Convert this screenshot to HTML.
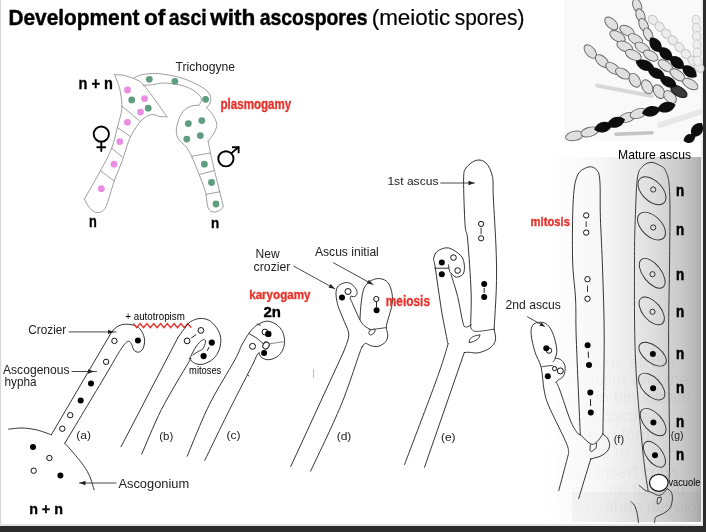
<!DOCTYPE html>
<html><head><meta charset="utf-8">
<style>
html,body{margin:0;padding:0;width:706px;height:532px;overflow:hidden;background:#2b2b2b;}
svg{position:absolute;left:0;top:0;display:block;will-change:transform;}
text{font-family:"Liberation Sans",sans-serif;}
</style></head>
<body>
<svg width="706" height="532" viewBox="0 0 706 532">
<defs>
<linearGradient id="gr" x1="545" y1="0" x2="701" y2="0" gradientUnits="userSpaceOnUse">
<stop offset="0" stop-color="#ffffff"/>
<stop offset="0.353" stop-color="#f7f7f7"/>
<stop offset="0.545" stop-color="#ebebeb"/>
<stop offset="0.705" stop-color="#dcdcdc"/>
<stop offset="0.865" stop-color="#cacaca"/>
<stop offset="0.96" stop-color="#bababa"/>
<stop offset="1" stop-color="#acadac"/>
</linearGradient>
<linearGradient id="stg" x1="530" y1="0" x2="640" y2="0" gradientUnits="userSpaceOnUse"><stop offset="0" stop-color="#000"/><stop offset="1" stop-color="#fff"/></linearGradient><mask id="stm" maskUnits="userSpaceOnUse" x="0" y="0" width="706" height="532"><rect x="530" y="160" width="171" height="362" fill="url(#stg)"/></mask>
<filter id="bl2" x="-5%" y="-5%" width="110%" height="110%"><feGaussianBlur stdDeviation="0.7"/></filter>
<filter id="bl" x="-5%" y="-5%" width="110%" height="110%"><feGaussianBlur stdDeviation="0.45"/></filter>
</defs>
<rect x="0" y="0" width="703" height="526" fill="#ffffff"/>
<rect x="0" y="0" width="1.2" height="526" fill="#d8d8d8"/>
<rect x="0" y="524" width="703" height="2" fill="#e4e4e4"/>
<rect x="701" y="0" width="2" height="526" fill="#ececec"/>
<rect x="545" y="157" width="156" height="365" fill="url(#gr)"/>
<g mask="url(#stm)" opacity="0.032" filter="url(#bl2)" font-family="Liberation Serif" font-size="17" fill="#000">
<text x="500" y="368">the ascogonium; all the</text>
<text x="480" y="385">nuclei of the crozier and the</text>
<text x="490" y="403">nuclei remain in binucleate</text>
<text x="470" y="421">form a primordial ascus</text>
<text x="485" y="440">two nuclei fuse to form</text>
<text x="470" y="458">diploid nuclei have re</text>
<text x="480" y="477">divide. Meiosis insert colla</text>
<text x="470" y="495">eight ascospores are formed</text>
<text x="490" y="512">ascogenous hyphae develop</text>
</g>
<rect x="572" y="492" width="129" height="30" fill="#000" opacity="0.03"/>
<text x="8.399999999999999" y="24.8" font-size="22.5" font-weight="bold" stroke="#000" stroke-width="0.45" fill="#000" textLength="131.0" lengthAdjust="spacingAndGlyphs">Development</text>
<text x="144.0" y="24.8" font-size="22.5" font-weight="bold" stroke="#000" stroke-width="0.45" fill="#000" textLength="21.4" lengthAdjust="spacingAndGlyphs">of</text>
<text x="168.79999999999998" y="24.8" font-size="22.5" font-weight="bold" stroke="#000" stroke-width="0.45" fill="#000" textLength="37.8" lengthAdjust="spacingAndGlyphs">asci</text>
<text x="210.2" y="24.8" font-size="22.5" font-weight="bold" stroke="#000" stroke-width="0.45" fill="#000" textLength="45.2" lengthAdjust="spacingAndGlyphs">with</text>
<text x="259.7" y="24.8" font-size="22.5" font-weight="bold" stroke="#000" stroke-width="0.45" fill="#000" textLength="107.8" lengthAdjust="spacingAndGlyphs">ascospores</text>
<text x="371.7" y="24.8" font-size="22.5" stroke="#000" stroke-width="0.2" fill="#000" textLength="78.6" lengthAdjust="spacingAndGlyphs">(meiotic</text>
<text x="454.7" y="24.8" font-size="22.5" stroke="#000" stroke-width="0.2" fill="#000" textLength="69.7" lengthAdjust="spacingAndGlyphs">spores)</text>

<g id="photo">
<rect x="564" y="0" width="137.5" height="141" fill="#f9f9f9"/>
<g filter="url(#bl)">
<ellipse cx="653.0" cy="20.0" rx="5.2" ry="4.2" transform="rotate(45 653.0 20.0)" fill="#ececec" stroke="#c4c4c4" stroke-width="1"/>
<ellipse cx="659.6" cy="26.8" rx="5.2" ry="4.2" transform="rotate(45 659.6 26.8)" fill="#ececec" stroke="#c4c4c4" stroke-width="1"/>
<ellipse cx="666.2" cy="33.6" rx="5.2" ry="4.2" transform="rotate(45 666.2 33.6)" fill="#ececec" stroke="#c4c4c4" stroke-width="1"/>
<ellipse cx="672.8" cy="40.4" rx="5.2" ry="4.2" transform="rotate(45 672.8 40.4)" fill="#ececec" stroke="#c4c4c4" stroke-width="1"/>
<ellipse cx="679.4" cy="47.2" rx="5.2" ry="4.2" transform="rotate(45 679.4 47.2)" fill="#ececec" stroke="#c4c4c4" stroke-width="1"/>
<ellipse cx="686.0" cy="54.0" rx="5.2" ry="4.2" transform="rotate(45 686.0 54.0)" fill="#ececec" stroke="#c4c4c4" stroke-width="1"/>
<ellipse cx="692.6" cy="60.8" rx="5.2" ry="4.2" transform="rotate(45 692.6 60.8)" fill="#ececec" stroke="#c4c4c4" stroke-width="1"/>
<ellipse cx="699.2" cy="67.6" rx="5.2" ry="4.2" transform="rotate(45 699.2 67.6)" fill="#ececec" stroke="#c4c4c4" stroke-width="1"/>
<ellipse cx="696.0" cy="20.0" rx="4.8" ry="4" transform="rotate(80 696.0 20.0)" fill="#eeeeee" stroke="#cccccc" stroke-width="1"/>
<ellipse cx="696.3" cy="28.2" rx="4.8" ry="4" transform="rotate(80 696.3 28.2)" fill="#eeeeee" stroke="#cccccc" stroke-width="1"/>
<ellipse cx="696.6" cy="36.4" rx="4.8" ry="4" transform="rotate(80 696.6 36.4)" fill="#eeeeee" stroke="#cccccc" stroke-width="1"/>
<ellipse cx="696.9" cy="44.6" rx="4.8" ry="4" transform="rotate(80 696.9 44.6)" fill="#eeeeee" stroke="#cccccc" stroke-width="1"/>
<ellipse cx="697.2" cy="52.8" rx="4.8" ry="4" transform="rotate(80 697.2 52.8)" fill="#eeeeee" stroke="#cccccc" stroke-width="1"/>
<ellipse cx="697.5" cy="61.0" rx="4.8" ry="4" transform="rotate(80 697.5 61.0)" fill="#eeeeee" stroke="#cccccc" stroke-width="1"/>
<path d="M597 85.6 L652 96" stroke="#d8d8d8" stroke-width="4" stroke-linecap="round"/>
<path d="M616 134.3 L652 132.7" stroke="#c4c4c4" stroke-width="3.5" stroke-linecap="round"/>
<path d="M660 125 L700 112" stroke="#e8e8e8" stroke-width="6" stroke-linecap="round"/>
<ellipse cx="590.3" cy="51.5" rx="8" ry="4.6" transform="rotate(50 590.3 51.5)" fill="#e0e0e0" stroke="#666666" stroke-width="0.95"/>
<ellipse cx="602.0" cy="61.0" rx="8" ry="4.6" transform="rotate(42 602.0 61.0)" fill="#e0e0e0" stroke="#666666" stroke-width="0.95"/>
<ellipse cx="612.8" cy="68.3" rx="8" ry="4.6" transform="rotate(35 612.8 68.3)" fill="#e0e0e0" stroke="#666666" stroke-width="0.95"/>
<ellipse cx="622.8" cy="73.5" rx="8" ry="4.6" transform="rotate(30 622.8 73.5)" fill="#e0e0e0" stroke="#666666" stroke-width="0.95"/>
<ellipse cx="634.8" cy="80.3" rx="7.5" ry="5" transform="rotate(58 634.8 80.3)" fill="#e0e0e0" stroke="#666666" stroke-width="0.95"/>
<ellipse cx="647.2" cy="86.8" rx="7.5" ry="5" transform="rotate(62 647.2 86.8)" fill="#e0e0e0" stroke="#666666" stroke-width="0.95"/>
<ellipse cx="659" cy="91.6" rx="7.5" ry="5" transform="rotate(58 659 91.6)" fill="#e0e0e0" stroke="#666666" stroke-width="0.95"/>
<ellipse cx="670" cy="97" rx="7.5" ry="5" transform="rotate(45 670 97)" fill="#e0e0e0" stroke="#666666" stroke-width="0.95"/>
<ellipse cx="611.3" cy="23.5" rx="8" ry="4.6" transform="rotate(45 611.3 23.5)" fill="#e0e0e0" stroke="#666666" stroke-width="0.95"/>
<ellipse cx="617.5" cy="36.4" rx="8.5" ry="4.6" transform="rotate(30 617.5 36.4)" fill="#e0e0e0" stroke="#666666" stroke-width="0.95"/>
<ellipse cx="624.8" cy="46.6" rx="8.5" ry="4.6" transform="rotate(25 624.8 46.6)" fill="#e0e0e0" stroke="#666666" stroke-width="0.95"/>
<ellipse cx="633.3" cy="55" rx="8.5" ry="4.6" transform="rotate(25 633.3 55)" fill="#e0e0e0" stroke="#666666" stroke-width="0.95"/>
<ellipse cx="627.1" cy="30.8" rx="8" ry="4.5" transform="rotate(30 627.1 30.8)" fill="#e0e0e0" stroke="#666666" stroke-width="0.95"/>
<ellipse cx="635.5" cy="39.2" rx="8" ry="4.5" transform="rotate(30 635.5 39.2)" fill="#e0e0e0" stroke="#666666" stroke-width="0.95"/>
<ellipse cx="642.3" cy="47.7" rx="8" ry="4.5" transform="rotate(30 642.3 47.7)" fill="#e0e0e0" stroke="#666666" stroke-width="0.95"/>
<ellipse cx="650.7" cy="55.6" rx="8" ry="4.5" transform="rotate(30 650.7 55.6)" fill="#e0e0e0" stroke="#666666" stroke-width="0.95"/>
<ellipse cx="637.2" cy="5.5" rx="7" ry="4.2" transform="rotate(70 637.2 5.5)" fill="#e0e0e0" stroke="#666666" stroke-width="0.95"/>
<ellipse cx="640.5" cy="15.5" rx="7" ry="4.2" transform="rotate(68 640.5 15.5)" fill="#e0e0e0" stroke="#666666" stroke-width="0.95"/>
<ellipse cx="643.6" cy="25" rx="7" ry="4.2" transform="rotate(65 643.6 25)" fill="#e0e0e0" stroke="#666666" stroke-width="0.95"/>
<ellipse cx="648.2" cy="34.5" rx="7" ry="4.2" transform="rotate(65 648.2 34.5)" fill="#e0e0e0" stroke="#666666" stroke-width="0.95"/>
<ellipse cx="665.5" cy="65.8" rx="8.5" ry="4.5" transform="rotate(35 665.5 65.8)" fill="#e0e0e0" stroke="#666666" stroke-width="0.95"/>
<ellipse cx="677.4" cy="74.9" rx="8.5" ry="4.5" transform="rotate(35 677.4 74.9)" fill="#e0e0e0" stroke="#666666" stroke-width="0.95"/>
<ellipse cx="690.3" cy="84" rx="8.5" ry="4.5" transform="rotate(30 690.3 84)" fill="#e0e0e0" stroke="#666666" stroke-width="0.95"/>
<ellipse cx="574.4" cy="135.9" rx="9" ry="4.6" transform="rotate(-12 574.4 135.9)" fill="#e0e0e0" stroke="#666666" stroke-width="0.95"/>
<ellipse cx="589.6" cy="131.9" rx="9" ry="4.6" transform="rotate(-15 589.6 131.9)" fill="#e0e0e0" stroke="#666666" stroke-width="0.95"/>
<ellipse cx="627.1" cy="117.5" rx="8.5" ry="4.6" transform="rotate(-18 627.1 117.5)" fill="#e0e0e0" stroke="#666666" stroke-width="0.95"/>
<ellipse cx="638.3" cy="113.5" rx="8.5" ry="4.6" transform="rotate(-18 638.3 113.5)" fill="#e0e0e0" stroke="#666666" stroke-width="0.95"/>
<ellipse cx="679" cy="91.6" rx="9" ry="4.6" transform="rotate(30 679 91.6)" fill="#3a3a3a" stroke="#111" stroke-width="1"/>
<path d="M-8.93 0C-4.46 -7.20 4.46 -7.20 8.93 0C4.46 7.20 -4.46 7.20 -8.93 0Z" transform="translate(655.6 44.9) rotate(55)" fill="#0a0a0a"/>
<path d="M-8.93 0C-4.46 -7.20 4.46 -7.20 8.93 0C4.46 7.20 -4.46 7.20 -8.93 0Z" transform="translate(665.7 53.9) rotate(45)" fill="#0a0a0a"/>
<path d="M-8.93 0C-4.46 -7.20 4.46 -7.20 8.93 0C4.46 7.20 -4.46 7.20 -8.93 0Z" transform="translate(677 62.5) rotate(40)" fill="#0a0a0a"/>
<path d="M-8.93 0C-4.46 -7.20 4.46 -7.20 8.93 0C4.46 7.20 -4.46 7.20 -8.93 0Z" transform="translate(689.5 71.5) rotate(38)" fill="#0a0a0a"/>
<path d="M-10.19 0C-5.09 -6.90 5.09 -6.90 10.19 0C5.09 6.90 -5.09 6.90 -10.19 0Z" transform="translate(645.1 65.2) rotate(22)" fill="#0a0a0a"/>
<path d="M-9.66 0C-4.83 -6.75 4.83 -6.75 9.66 0C4.83 6.75 -4.83 6.75 -9.66 0Z" transform="translate(656.4 73.3) rotate(25)" fill="#0a0a0a"/>
<path d="M-9.66 0C-4.83 -6.75 4.83 -6.75 9.66 0C4.83 6.75 -4.83 6.75 -9.66 0Z" transform="translate(668.2 81.9) rotate(28)" fill="#0a0a0a"/>
<path d="M-9.45 0C-4.73 -6.90 4.73 -6.90 9.45 0C4.73 6.90 -4.73 6.90 -9.45 0Z" transform="translate(603.2 127.1) rotate(-15)" fill="#0a0a0a"/>
<path d="M-9.45 0C-4.73 -6.90 4.73 -6.90 9.45 0C4.73 6.90 -4.73 6.90 -9.45 0Z" transform="translate(616 122.3) rotate(-18)" fill="#0a0a0a"/>
<path d="M-9.45 0C-4.73 -6.90 4.73 -6.90 9.45 0C4.73 6.90 -4.73 6.90 -9.45 0Z" transform="translate(651.2 111.2) rotate(-12)" fill="#0a0a0a"/>
<path d="M-9.45 0C-4.73 -6.90 4.73 -6.90 9.45 0C4.73 6.90 -4.73 6.90 -9.45 0Z" transform="translate(666.4 107.2) rotate(-15)" fill="#0a0a0a"/>
<path d="M-8.40 0C-4.20 -7.50 4.20 -7.50 8.40 0C4.20 7.50 -4.20 7.50 -8.40 0Z" transform="translate(697 130) rotate(-55)" fill="#0a0a0a"/>
<path d="M-6.30 0C-3.15 -6.00 3.15 -6.00 6.30 0C3.15 6.00 -3.15 6.00 -6.30 0Z" transform="translate(689.5 138.5) rotate(-20)" fill="#0a0a0a"/>
</g>
</g>
<g id="diag">
<path d="M114.6 74.6C116.4 74.8 121.3 74.7 125.3 75.7C129.3 76.7 135.7 79.2 138.8 80.8C141.9 82.4 141.5 82.5 143.9 85.3C146.3 88.1 149.7 92.4 153.5 97.7C157.3 103.0 164.8 113.7 167.0 116.9" fill="none" stroke="#858585" stroke-width="0.8" stroke-linejoin="round" stroke-linecap="round"/>
<path d="M167.0 116.9C165.7 116.8 161.3 116.7 159.1 116.3C156.8 115.9 155.6 114.6 153.5 114.6C151.4 114.6 149.1 114.8 146.7 116.3C144.2 117.8 141.7 119.8 138.8 123.6C136.0 127.3 132.4 132.5 129.6 138.8C126.8 145.1 124.5 154.5 122.0 161.4C119.5 168.3 116.5 174.5 114.5 180.2C112.5 185.8 111.4 190.6 109.8 195.3C108.2 200.0 107.1 205.5 105.1 208.4C103.1 211.3 100.1 212.6 97.6 212.6C95.1 212.6 92.2 210.7 90.0 208.4C87.8 206.1 85.3 200.6 84.4 199.0" fill="none" stroke="#858585" stroke-width="0.8" stroke-linejoin="round" stroke-linecap="round"/>
<path d="M84.4 199.0C87.1 194.3 95.9 179.3 100.4 170.8C105.0 162.3 108.9 155.4 111.7 148.2C114.5 141.0 115.8 133.1 117.3 127.5C118.8 121.9 120.0 118.4 120.8 114.6C121.6 110.8 122.1 108.8 121.9 104.5C121.7 100.2 120.9 93.7 119.7 88.7C118.5 83.7 115.4 76.9 114.6 74.6" fill="none" stroke="#858585" stroke-width="0.8" stroke-linejoin="round" stroke-linecap="round"/>
<line x1="121.9" y1="106.1" x2="139.4" y2="120.8" stroke="#858585" stroke-width="0.8" stroke-linecap="round"/>
<line x1="117.3" y1="127.5" x2="130.5" y2="136.6" stroke="#858585" stroke-width="0.8" stroke-linecap="round"/>
<line x1="111.7" y1="148.2" x2="122" y2="156.7" stroke="#858585" stroke-width="0.8" stroke-linecap="round"/>
<line x1="100.4" y1="170.8" x2="114.5" y2="181.2" stroke="#858585" stroke-width="0.8" stroke-linecap="round"/>
<path d="M133.7 78.0C135.1 77.4 138.5 75.3 142.2 74.6C145.9 73.8 151.9 73.5 155.7 73.5C159.5 73.5 160.9 73.8 165.0 74.5C169.1 75.2 175.0 76.0 180.0 77.5C185.0 79.0 190.5 81.2 195.0 83.5C199.5 85.8 204.5 88.5 207.1 91.0C209.7 93.5 210.4 96.2 210.8 98.5C211.2 100.8 210.1 103.0 209.3 104.5C208.6 106.0 206.8 107.1 206.3 107.6" fill="none" stroke="#858585" stroke-width="0.8" stroke-linejoin="round" stroke-linecap="round"/>
<path d="M143.3 85.3C144.8 85.2 148.9 85.1 152.3 84.7C155.7 84.3 159.0 83.0 163.6 83.0C168.2 83.0 175.3 83.9 180.0 85.0C184.7 86.1 188.6 87.6 192.0 89.5C195.4 91.4 198.8 94.3 200.3 96.3C201.8 98.3 201.3 100.0 201.1 101.5C200.8 103.0 199.2 104.7 198.8 105.3" fill="none" stroke="#858585" stroke-width="0.8" stroke-linejoin="round" stroke-linecap="round"/>
<path d="M198.8 105.3C197.7 105.4 194.4 105.2 192.0 106.0C189.6 106.8 186.6 107.8 184.5 109.8C182.4 111.8 180.7 114.7 179.3 118.1C177.9 121.5 176.4 126.6 176.3 130.1C176.2 133.6 176.9 136.3 178.5 139.1C180.1 141.9 183.8 143.9 186.1 146.9C188.3 149.9 189.8 152.3 192.0 157.1C194.2 161.9 197.3 169.8 199.6 175.7C201.9 181.6 204.2 187.2 205.6 192.6C207.0 198.0 206.7 204.7 208.1 207.9C209.5 211.2 211.9 211.8 214.0 212.1C216.1 212.4 219.2 210.6 220.8 209.6C222.4 208.6 222.9 206.8 223.3 206.2" fill="none" stroke="#858585" stroke-width="0.8" stroke-linejoin="round" stroke-linecap="round"/>
<path d="M223.3 206.2C222.7 203.9 221.3 198.2 219.9 192.6C218.5 186.9 216.5 178.8 214.9 172.3C213.3 165.8 211.7 158.9 210.6 153.7C209.5 148.5 208.5 143.1 208.1 141.0" fill="none" stroke="#858585" stroke-width="0.8" stroke-linejoin="round" stroke-linecap="round"/>
<path d="M208.1 141.0C208.9 139.9 211.6 137.2 213.1 134.6C214.6 132.0 216.6 128.3 216.8 125.6C217.1 122.8 215.7 120.5 214.6 118.1C213.5 115.7 211.5 113.0 210.1 111.3C208.7 109.5 206.9 108.2 206.3 107.6" fill="none" stroke="#858585" stroke-width="0.8" stroke-linejoin="round" stroke-linecap="round"/>
<line x1="192" y1="156.2" x2="210.6" y2="152.9" stroke="#858585" stroke-width="0.8" stroke-linecap="round"/>
<line x1="199.6" y1="174.4" x2="214" y2="170.6" stroke="#858585" stroke-width="0.8" stroke-linecap="round"/>
<line x1="206.4" y1="194.3" x2="219.9" y2="191.8" stroke="#858585" stroke-width="0.8" stroke-linecap="round"/>
<circle cx="127.5" cy="90" r="3.4" fill="#ea8ee3"/>
<circle cx="144.5" cy="98.6" r="3.4" fill="#ea8ee3"/>
<circle cx="140.5" cy="112.1" r="3.4" fill="#ea8ee3"/>
<circle cx="127.4" cy="122.3" r="3.4" fill="#ea8ee3"/>
<circle cx="119.8" cy="141.6" r="3.4" fill="#ea8ee3"/>
<circle cx="114" cy="164.2" r="3.4" fill="#ea8ee3"/>
<circle cx="101.3" cy="188.7" r="3.4" fill="#ea8ee3"/>
<circle cx="131.7" cy="99.9" r="3.4" fill="#5e9d7f"/>
<circle cx="148.2" cy="108.2" r="3.4" fill="#5e9d7f"/>
<circle cx="149.3" cy="79.3" r="3.4" fill="#5e9d7f"/>
<circle cx="174.9" cy="81.3" r="3.4" fill="#5e9d7f"/>
<circle cx="205.6" cy="99.3" r="3.4" fill="#5e9d7f"/>
<circle cx="188.3" cy="123.6" r="3.4" fill="#5e9d7f"/>
<circle cx="201.8" cy="120.6" r="3.4" fill="#5e9d7f"/>
<circle cx="186.8" cy="139.1" r="3.4" fill="#5e9d7f"/>
<circle cx="200.3" cy="135.6" r="3.4" fill="#5e9d7f"/>
<circle cx="204.4" cy="164.2" r="3.4" fill="#5e9d7f"/>
<circle cx="211.5" cy="182.5" r="3.4" fill="#5e9d7f"/>
<circle cx="216" cy="204" r="3.4" fill="#5e9d7f"/>
<circle cx="101.3" cy="134.1" r="7.6" fill="none" stroke="#000" stroke-width="1.9"/>
<line x1="101.3" y1="141.7" x2="101.3" y2="151" stroke="#000" stroke-width="1.9" stroke-linecap="round"/>
<line x1="97.2" y1="147.3" x2="105.2" y2="147.3" stroke="#000" stroke-width="1.9" stroke-linecap="round"/>
<circle cx="225.9" cy="158.8" r="7.6" fill="none" stroke="#000" stroke-width="1.9"/>
<line x1="231.2" y1="153.4" x2="238.3" y2="147.2" stroke="#000" stroke-width="1.9" stroke-linecap="round"/>
<path d="M232 147.2H238.6V153.2" fill="none" stroke="#000" stroke-width="1.9"/>
<path d="M8.6 429.2C10.8 429.0 17.3 427.9 22.0 428.0C26.7 428.1 31.8 428.8 36.7 429.9C41.6 431.0 48.9 434.0 51.3 434.8" fill="none" stroke="#2a2a2a" stroke-width="0.95" stroke-linejoin="round" stroke-linecap="round"/>
<line x1="51.3" y1="434.8" x2="109.7" y2="335.3" stroke="#2a2a2a" stroke-width="0.95" stroke-linecap="round"/>
<path d="M109.7 335.3C110.5 334.2 112.6 330.3 114.7 328.5C116.8 326.7 119.4 325.2 122.1 324.6C124.8 324.0 128.4 324.1 131.1 324.6C133.8 325.1 136.4 325.9 138.4 327.4C140.4 328.9 141.9 331.4 142.9 333.6C143.9 335.9 144.6 338.4 144.6 340.9C144.6 343.4 143.9 346.9 142.9 348.8C141.9 350.7 139.9 352.0 138.4 352.2C136.9 352.4 135.0 351.3 133.9 350.0C132.8 348.7 132.4 345.7 131.7 344.3C130.9 342.9 130.2 341.9 129.4 341.5C128.6 341.1 127.6 341.4 126.6 342.1C125.6 342.9 124.7 343.9 123.2 346.0C121.7 348.1 120.5 349.7 117.6 354.5C114.7 359.3 114.5 360.2 105.7 375.0C96.9 389.8 71.6 431.9 64.8 443.3" fill="none" stroke="#2a2a2a" stroke-width="0.95" stroke-linejoin="round" stroke-linecap="round"/>
<path d="M64.8 443.3C65.2 443.7 64.5 442.7 67.2 445.8C69.9 448.9 77.0 456.8 80.7 461.7C84.4 466.6 87.0 470.4 89.2 475.1C91.4 479.8 93.3 487.4 94.1 489.8" fill="none" stroke="#2a2a2a" stroke-width="0.95" stroke-linejoin="round" stroke-linecap="round"/>
<circle cx="137.9" cy="340.4" r="3.0" fill="#000"/>
<circle cx="91" cy="383.4" r="3.0" fill="#000"/>
<circle cx="80.7" cy="400.6" r="3.0" fill="#000"/>
<circle cx="33" cy="447" r="3.0" fill="#000"/>
<circle cx="60.4" cy="475.6" r="3.0" fill="#000"/>
<circle cx="114.4" cy="340.9" r="2.6999999999999997" fill="#fff" stroke="#111" stroke-width="1.0"/>
<circle cx="106.1" cy="361.8" r="2.6999999999999997" fill="#fff" stroke="#111" stroke-width="1.0"/>
<circle cx="70.2" cy="415.2" r="2.6999999999999997" fill="#fff" stroke="#111" stroke-width="1.0"/>
<circle cx="62.3" cy="428.7" r="2.6999999999999997" fill="#fff" stroke="#111" stroke-width="1.0"/>
<circle cx="49.4" cy="458" r="2.6999999999999997" fill="#fff" stroke="#111" stroke-width="1.0"/>
<circle cx="33.7" cy="470.7" r="2.6999999999999997" fill="#fff" stroke="#111" stroke-width="1.0"/>
<line x1="69" y1="331.9" x2="115.9" y2="331.9" stroke="#333" stroke-width="0.9" stroke-linecap="round"/>
<path d="M114.0 331.9L108.0 334.1L108.0 329.7Z" fill="#222"/>
<line x1="72" y1="371.5" x2="96.6" y2="371.5" stroke="#333" stroke-width="0.9" stroke-linecap="round"/>
<path d="M94.0 371.5L88.0 373.7L88.0 369.3Z" fill="#222"/>
<line x1="79.5" y1="483" x2="116" y2="483" stroke="#333" stroke-width="0.9" stroke-linecap="round"/>
<path d="M79.5 483.0L85.5 480.8L85.5 485.2Z" fill="#222"/>
<polyline points="133.3,323.6 136.7,327.6 140.1,323.6 143.5,327.6 146.9,323.6 150.3,327.6 153.7,323.6 157.1,327.6 160.5,323.6 163.9,327.6 167.3,323.6 170.7,327.6 174.1,323.6 177.5,327.6 180.9,323.6 184.3,327.6 187.7,323.6 191.1,327.6" fill="none" stroke="#e8322b" stroke-width="1.45"/>
<line x1="121" y1="446.8" x2="177.9" y2="337.6" stroke="#2a2a2a" stroke-width="0.95" stroke-linecap="round"/>
<path d="M177.9 337.6C179.0 336.1 182.4 331.0 184.5 328.4C186.6 325.8 188.0 323.4 190.4 321.8C192.8 320.2 195.9 318.9 198.9 318.6C201.9 318.3 205.3 318.5 208.2 319.9C211.1 321.3 214.0 324.2 216.1 327.1C218.2 330.1 220.2 333.9 220.7 337.6C221.2 341.3 220.5 346.0 219.3 349.5C218.1 353.0 215.9 356.3 213.4 358.7C210.9 361.1 207.0 363.0 204.2 363.9C201.3 364.8 198.5 364.4 196.3 363.9C194.1 363.4 192.2 361.6 191.1 360.7C190.0 359.8 189.9 359.0 189.7 358.7" fill="none" stroke="#2a2a2a" stroke-width="0.95" stroke-linejoin="round" stroke-linecap="round"/>
<path d="M189.7 358.7C190.6 356.9 193.2 351.0 195.0 348.2C196.8 345.4 198.8 343.0 200.3 341.6C201.8 340.2 203.3 339.5 204.2 339.6C205.1 339.7 205.7 340.7 205.5 342.2C205.3 343.7 204.1 347.3 202.9 348.8C201.7 350.3 200.0 350.4 198.3 351.4C196.7 352.4 193.9 354.4 193.0 355.0" fill="none" stroke="#2a2a2a" stroke-width="0.95" stroke-linejoin="round" stroke-linecap="round"/>
<path d="M190.5 359.0C190.1 359.7 193.0 354.7 188.2 363.1C183.3 371.5 169.2 394.4 161.4 409.6C153.7 424.8 145.0 446.7 141.7 454.1" fill="none" stroke="#2a2a2a" stroke-width="0.95" stroke-linejoin="round" stroke-linecap="round"/>
<circle cx="200.9" cy="330.4" r="2.9" fill="#fff" stroke="#111" stroke-width="1.0"/>
<circle cx="187.1" cy="340.9" r="2.9" fill="#fff" stroke="#111" stroke-width="1.0"/>
<line x1="191.5" y1="337.8" x2="195.8" y2="334.8" stroke="#222" stroke-width="1.0" stroke-linecap="round"/>
<circle cx="211.8" cy="342.6" r="3.1" fill="#000"/>
<circle cx="203.6" cy="356.1" r="3.1" fill="#000"/>
<line x1="209" y1="347.3" x2="207.3" y2="350.5" stroke="#222" stroke-width="1.0" stroke-linecap="round"/>
<path d="M187.2 456.2C190.8 447.8 201.0 421.5 208.9 405.5C216.8 389.5 229.3 370.1 234.8 360.0C240.3 349.9 239.4 349.5 241.8 345.0C244.2 340.5 246.9 336.1 249.1 333.1C251.2 330.1 252.5 328.7 254.7 326.9C256.9 325.1 259.8 323.3 262.1 322.4C264.5 321.5 266.4 320.9 268.8 321.3C271.2 321.7 274.4 323.0 276.7 324.7C279.0 326.4 281.1 328.8 282.4 331.4C283.7 334.0 284.5 337.5 284.6 340.5C284.7 343.5 284.0 346.9 282.9 349.5C281.8 352.1 280.0 354.5 277.9 356.2C275.8 357.9 272.4 359.2 270.0 359.6C267.6 360.0 264.9 359.2 263.2 358.5C261.5 357.8 260.5 356.0 259.8 355.1C259.1 354.2 259.3 353.3 259.2 352.9" fill="none" stroke="#2a2a2a" stroke-width="0.95" stroke-linejoin="round" stroke-linecap="round"/>
<path d="M259.2 352.9C258.8 353.3 257.9 353.4 257.0 355.1C256.1 356.8 254.1 361.7 253.5 363.0" fill="none" stroke="#2a2a2a" stroke-width="0.95" stroke-linejoin="round" stroke-linecap="round"/>
<path d="M253.5 363.0C249.5 370.8 237.7 393.4 229.6 409.6C221.5 425.8 208.9 451.9 204.8 460.3" fill="none" stroke="#2a2a2a" stroke-width="0.95" stroke-linejoin="round" stroke-linecap="round"/>
<path d="M249.1 333.7C250.2 334.4 253.7 336.1 255.9 337.6C258.1 339.1 260.7 341.5 262.1 342.7C263.5 343.9 263.9 344.6 264.3 345.0" fill="none" stroke="#2a2a2a" stroke-width="0.95" stroke-linejoin="round" stroke-linecap="round"/>
<path d="M270.0 343.8C271.1 343.6 274.3 343.1 276.7 342.7C279.1 342.3 283.3 341.8 284.6 341.6" fill="none" stroke="#666" stroke-width="0.8" stroke-linejoin="round" stroke-linecap="round"/>
<line x1="257" y1="324.1" x2="260.4" y2="325.2" stroke="#222" stroke-width="0.9" stroke-linecap="round"/>
<line x1="247.5" y1="374.8" x2="249" y2="376" stroke="#222" stroke-width="0.9" stroke-linecap="round"/>
<circle cx="264.9" cy="332" r="2.9" fill="#fff" stroke="#111" stroke-width="1.0"/>
<circle cx="268.3" cy="333.9" r="3.2" fill="#000"/>
<circle cx="252.5" cy="346.3" r="3.0" fill="#fff" stroke="#111" stroke-width="1.0"/>
<ellipse cx="266" cy="345.5" rx="3" ry="3.6" transform="rotate(30 266 345.5)" fill="#fff" stroke="#111" stroke-width="1"/>
<circle cx="264.1" cy="352.9" r="3.0" fill="#000"/>
<line x1="313.6" y1="369.5" x2="313.6" y2="377.5" stroke="#aaa" stroke-width="0.9" stroke-linecap="round"/>
<path d="M290.8 466.4L343.5 352.0" fill="none" stroke="#2a2a2a" stroke-width="0.95" stroke-linejoin="round" stroke-linecap="round"/>
<path d="M343.5 352.0C344.4 349.2 348.7 340.2 348.8 335.1C348.9 330.0 346.1 326.4 344.3 321.6C342.6 316.9 339.7 311.1 338.3 306.6C336.9 302.1 336.1 297.8 336.0 294.5C335.9 291.2 336.4 288.9 337.5 287.0C338.6 285.1 340.9 284.0 342.8 283.3C344.7 282.6 346.9 282.3 348.8 282.8C350.7 283.3 352.6 284.9 354.0 286.3C355.4 287.8 356.6 290.0 357.0 291.5C357.4 293.0 356.9 294.4 356.3 295.3C355.7 296.2 354.2 296.7 353.3 296.8C352.4 296.9 351.5 295.8 351.0 296.0C350.5 296.2 350.1 297.1 350.3 298.3C350.6 299.6 351.0 300.1 352.5 303.5C354.0 306.9 357.4 315.0 359.3 318.6C361.2 322.2 362.1 323.6 363.8 325.3C365.6 327.1 368.8 328.5 369.8 329.1" fill="none" stroke="#2a2a2a" stroke-width="0.95" stroke-linejoin="round" stroke-linecap="round"/>
<path d="M310.6 471.2C315.7 460.2 332.7 425.4 340.9 405.5C349.1 385.6 356.4 361.7 360.0 352.0C363.6 342.3 361.4 348.5 362.3 347.1C363.2 345.7 363.9 343.6 365.3 343.4C366.7 343.1 368.5 345.1 370.6 345.6C372.7 346.1 375.6 347.0 378.1 346.4C380.6 345.8 384.0 343.8 385.6 341.9C387.2 340.0 387.7 337.5 387.8 335.1C387.9 332.7 386.3 330.1 386.3 327.6C386.3 325.1 387.2 322.6 387.8 320.1C388.4 317.6 389.4 315.6 390.1 312.6C390.9 309.6 392.1 305.5 392.3 302.0C392.6 298.5 392.4 294.8 391.6 291.5C390.9 288.2 389.6 284.6 387.8 282.5C386.1 280.4 383.5 279.3 381.1 278.8C378.7 278.3 376.0 278.6 373.6 279.5C371.2 280.4 368.6 282.0 366.8 284.0C365.0 286.0 364.0 287.7 363.0 291.5C362.0 295.3 361.3 302.0 360.8 306.6C360.3 311.2 360.1 317.2 360.0 319.3" fill="none" stroke="#2a2a2a" stroke-width="0.95" stroke-linejoin="round" stroke-linecap="round"/>
<path d="M369.0 329.8C370.0 329.7 372.2 329.5 375.1 329.1C378.0 328.7 384.4 327.9 386.3 327.6" fill="none" stroke="#2a2a2a" stroke-width="0.85" stroke-linejoin="round" stroke-linecap="round"/>
<path d="M368.8 332.5 Q369.5 329.5 375.1 329.1 Q375.5 333.5 370.6 335.1 Q368.6 334.5 368.8 332.5Z" fill="#fff" stroke="#222" stroke-width="0.85"/>
<circle cx="348" cy="291.5" r="3.0" fill="#fff" stroke="#111" stroke-width="1.0"/>
<circle cx="342" cy="297.5" r="3.0" fill="#000"/>
<circle cx="376.3" cy="299" r="2.5999999999999996" fill="#fff" stroke="#111" stroke-width="1.0"/>
<circle cx="376.6" cy="310.3" r="3.0" fill="#000"/>
<line x1="376.5" y1="302" x2="376.5" y2="307" stroke="#222" stroke-width="1.0" stroke-linecap="round"/>
<line x1="293.8" y1="266.2" x2="334.9" y2="288.8" stroke="#333" stroke-width="0.9" stroke-linecap="round"/>
<path d="M334.9 288.8L328.6 287.8L330.7 284.0Z" fill="#222"/>
<line x1="333.5" y1="262.8" x2="373.1" y2="284.6" stroke="#333" stroke-width="0.9" stroke-linecap="round"/>
<path d="M373.1 284.6L366.8 283.6L368.9 279.8Z" fill="#222"/>
<path d="M404.6 464.4C409.9 450.3 429.3 399.7 436.4 380.0C443.5 360.3 445.6 352.5 447.4 346.1C449.2 339.7 448.3 347.2 447.4 341.6C446.5 336.0 443.9 324.8 441.8 312.2C439.7 299.6 436.4 274.8 435.0 266.0C433.6 257.2 433.2 261.6 433.6 259.2C434.0 256.8 434.8 253.2 437.3 251.3C439.8 249.4 444.6 247.2 448.5 247.9C452.4 248.7 458.4 253.0 461.0 255.8C463.6 258.6 463.9 261.8 464.3 264.8C464.7 267.8 464.5 271.8 463.2 273.9C461.9 276.0 458.3 277.2 456.4 277.2C454.5 277.2 452.6 274.4 451.9 273.9" fill="none" stroke="#2a2a2a" stroke-width="0.95" stroke-linejoin="round" stroke-linecap="round"/>
<path d="M451.0 274.5C452.1 278.1 455.6 288.2 457.6 296.4C459.6 304.6 461.7 318.4 463.2 323.5C464.7 328.6 465.3 326.7 466.6 326.9C467.9 327.1 470.4 325.1 471.1 324.7" fill="none" stroke="#2a2a2a" stroke-width="0.95" stroke-linejoin="round" stroke-linecap="round"/>
<path d="M448.5 264.8C448.7 265.9 449.1 270.1 449.7 271.6C450.3 273.1 451.5 273.5 451.9 273.9" fill="none" stroke="#2a2a2a" stroke-width="0.95" stroke-linejoin="round" stroke-linecap="round"/>
<line x1="434.8" y1="268.2" x2="448.5" y2="268.2" stroke="#2a2a2a" stroke-width="0.95" stroke-linecap="round"/>
<path d="M471.1 328.0C471.0 327.2 470.7 329.5 470.7 323.5C470.7 317.5 471.6 305.8 471.1 291.9C470.6 278.0 468.7 251.1 467.7 240.0C466.7 228.9 465.8 235.2 465.1 225.2C464.4 215.2 463.5 189.5 463.6 180.0C463.8 170.5 463.9 171.3 466.0 168.0C468.1 164.7 473.1 161.1 476.4 160.3C479.7 159.5 483.3 160.3 486.0 163.0C488.7 165.7 491.2 170.6 492.4 176.3C493.6 182.0 492.7 184.7 493.3 197.0C493.9 209.3 495.6 235.3 496.1 250.0C496.6 264.7 496.7 271.9 496.4 285.1C496.1 298.3 494.5 321.9 494.1 329.2" fill="none" stroke="#2a2a2a" stroke-width="0.95" stroke-linejoin="round" stroke-linecap="round"/>
<path d="M494.1 329.2C494.3 331.0 496.2 336.9 495.5 340.0C494.8 343.1 492.8 345.9 490.0 348.0C487.2 350.1 481.9 352.1 478.5 352.8C475.1 353.5 471.9 352.4 469.5 352.3C467.1 352.2 465.2 352.5 464.3 352.5" fill="none" stroke="#2a2a2a" stroke-width="0.95" stroke-linejoin="round" stroke-linecap="round"/>
<path d="M464.3 352.5L424.5 467.3" fill="none" stroke="#2a2a2a" stroke-width="0.95" stroke-linejoin="round" stroke-linecap="round"/>
<path d="M471.1 328.0C471.9 328.6 471.8 331.2 475.6 331.4C479.4 331.6 491.0 329.6 494.1 329.2" fill="none" stroke="#2a2a2a" stroke-width="0.85" stroke-linejoin="round" stroke-linecap="round"/>
<path d="M468.9 342.7 Q469 336 480.1 334.8 Q479 341 468.9 342.7Z" fill="#fff" stroke="#222" stroke-width="0.85"/>
<circle cx="441.8" cy="262.6" r="3.0" fill="#000"/>
<circle cx="441.8" cy="274.3" r="3.0" fill="#000"/>
<circle cx="453.5" cy="257.6" r="2.8" fill="#fff" stroke="#111" stroke-width="1.0"/>
<circle cx="457.6" cy="270.5" r="2.8" fill="#fff" stroke="#111" stroke-width="1.0"/>
<circle cx="481.1" cy="223.9" r="2.5999999999999996" fill="#fff" stroke="#111" stroke-width="1.0"/>
<circle cx="481.1" cy="238.3" r="2.5999999999999996" fill="#fff" stroke="#111" stroke-width="1.0"/>
<line x1="481.1" y1="228" x2="481.1" y2="233.8" stroke="#222" stroke-width="0.9" stroke-linecap="round"/>
<circle cx="484.2" cy="284" r="3.0" fill="#000"/>
<circle cx="484.2" cy="296.9" r="3.0" fill="#000"/>
<line x1="484.2" y1="288.3" x2="484.2" y2="292.6" stroke="#222" stroke-width="1.0" stroke-linecap="round"/>
<line x1="440.7" y1="183" x2="474.5" y2="183" stroke="#333" stroke-width="0.9" stroke-linecap="round"/>
<path d="M474.5 183.0L468.5 185.2L468.5 180.8Z" fill="#222"/>
<path d="M553.1 361.9C553.5 361.3 554.7 360.0 555.3 358.1C555.9 356.2 556.9 353.9 556.8 350.6C556.7 347.4 555.7 342.4 554.6 338.6C553.5 334.8 551.9 330.6 550.1 328.0C548.4 325.4 546.4 323.7 544.1 322.8C541.8 321.9 538.5 322.2 536.5 322.8C534.5 323.4 532.9 324.4 532.0 326.5C531.1 328.6 530.8 331.3 531.3 335.6C531.8 339.9 533.4 346.9 535.0 352.1C536.6 357.4 539.6 360.8 541.1 367.1C542.6 373.4 542.8 383.6 544.1 390.0C545.4 396.4 545.1 397.2 548.7 405.8C552.3 414.4 562.3 433.8 565.6 441.4C568.9 449.0 568.2 448.8 568.5 451.6C568.8 454.4 568.9 451.8 567.3 458.3C565.7 464.8 560.2 485.1 558.8 490.5" fill="none" stroke="#2a2a2a" stroke-width="0.95" stroke-linejoin="round" stroke-linecap="round"/>
<path d="M555.3 358.1C556.2 358.4 559.1 358.6 560.6 359.6C562.1 360.6 563.6 362.3 564.4 364.1C565.1 365.9 565.4 368.1 565.1 370.2C564.9 372.3 564.0 375.3 562.9 376.9C561.8 378.5 559.4 379.0 558.3 379.9C557.2 380.8 556.5 381.8 556.1 382.2" fill="none" stroke="#2a2a2a" stroke-width="0.95" stroke-linejoin="round" stroke-linecap="round"/>
<path d="M556.1 382.2C556.7 383.5 557.4 383.7 559.8 390.0C562.1 396.3 567.4 412.9 570.2 420.0C573.1 427.1 575.2 429.9 576.9 432.4C578.6 434.8 579.7 434.3 580.3 434.7" fill="none" stroke="#2a2a2a" stroke-width="0.95" stroke-linejoin="round" stroke-linecap="round"/>
<path d="M541.8 366.8C543.5 366.6 550.3 365.3 552.3 365.6C554.3 365.9 553.5 368.1 553.8 368.6" fill="none" stroke="#2a2a2a" stroke-width="0.85" stroke-linejoin="round" stroke-linecap="round"/>
<path d="M580.3 434.7C579.6 418.9 577.1 362.4 576.3 340.0C575.5 317.6 576.2 313.3 575.6 300.0C575.0 286.7 573.0 276.7 572.6 260.0C572.2 243.3 572.4 213.8 573.3 199.6C574.2 185.4 575.2 180.2 577.8 174.8C580.4 169.4 585.9 167.7 589.1 166.9C592.3 166.2 595.2 167.9 597.0 170.3C598.8 172.8 599.3 173.7 599.9 181.6C600.5 189.5 599.9 203.0 600.4 217.7C600.9 232.4 602.0 249.6 602.6 270.0C603.2 290.4 604.2 312.6 604.2 340.0C604.2 367.4 603.1 418.4 602.9 434.1" fill="none" stroke="#2a2a2a" stroke-width="0.95" stroke-linejoin="round" stroke-linecap="round"/>
<path d="M580.3 434.7C582.0 436.2 587.8 442.4 590.4 443.7C593.0 445.0 594.0 444.2 596.1 442.6C598.2 441.0 601.8 435.5 602.9 434.1" fill="none" stroke="#2a2a2a" stroke-width="0.95" stroke-linejoin="round" stroke-linecap="round"/>
<path d="M602.9 434.1C603.6 434.8 606.3 436.2 607.4 438.0C608.5 439.8 609.6 442.6 609.6 444.8C609.6 447.0 608.9 449.1 607.4 451.0C605.9 452.9 603.2 454.8 600.6 456.1C598.0 457.4 593.4 458.0 591.6 458.9C589.8 459.8 592.0 455.1 589.9 461.7C587.8 468.3 580.6 492.3 578.7 498.4" fill="none" stroke="#2a2a2a" stroke-width="0.95" stroke-linejoin="round" stroke-linecap="round"/>
<path d="M590.4 444.2L589.9 450.4L591.6 451.6L596.1 448.2L596.7 442.6" fill="none" stroke="#222" stroke-width="0.85"/>
<circle cx="586.2" cy="215.4" r="2.6999999999999997" fill="#fff" stroke="#111" stroke-width="1.0"/>
<circle cx="586.2" cy="232.6" r="2.6999999999999997" fill="#fff" stroke="#111" stroke-width="1.0"/>
<line x1="586.2" y1="221.7" x2="586.2" y2="226.7" stroke="#222" stroke-width="0.9" stroke-linecap="round"/>
<circle cx="587.5" cy="279.2" r="2.6999999999999997" fill="#fff" stroke="#111" stroke-width="1.0"/>
<circle cx="587.5" cy="298.8" r="2.6999999999999997" fill="#fff" stroke="#111" stroke-width="1.0"/>
<line x1="587.5" y1="286" x2="587.5" y2="291.6" stroke="#222" stroke-width="0.9" stroke-linecap="round"/>
<circle cx="587.6" cy="345.3" r="3.0" fill="#000"/>
<circle cx="589" cy="365" r="3.0" fill="#000"/>
<line x1="588.2" y1="352" x2="588.5" y2="357.5" stroke="#222" stroke-width="1.0" stroke-linecap="round"/>
<circle cx="590.3" cy="392.6" r="3.0" fill="#000"/>
<circle cx="590.8" cy="412.4" r="3.0" fill="#000"/>
<line x1="590.5" y1="399.5" x2="590.6" y2="405.5" stroke="#222" stroke-width="1.0" stroke-linecap="round"/>
<circle cx="549" cy="350.6" r="2.6999999999999997" fill="#fff" stroke="#111" stroke-width="1.0"/>
<circle cx="546.3" cy="348.3" r="3.0" fill="#000"/>
<circle cx="560.3" cy="370.9" r="3.0" fill="#fff" stroke="#111" stroke-width="1.0"/>
<circle cx="554.6" cy="368.6" r="2.1" fill="#fff" stroke="#111" stroke-width="1.0"/>
<circle cx="547.8" cy="376.2" r="3.0" fill="#000"/>
<line x1="527.5" y1="316.8" x2="544.8" y2="326.5" stroke="#333" stroke-width="0.9" stroke-linecap="round"/>
<path d="M544.8 326.5L539.5 325.8L541.4 322.3Z" fill="#222"/>
<path d="M648.1 491.0C647.2 484.2 644.8 471.8 642.7 450.0C640.6 428.2 636.9 391.7 635.5 360.0C634.1 328.3 634.5 284.7 634.5 260.0C634.5 235.3 635.0 225.8 635.5 212.0C636.0 198.2 636.4 184.6 637.6 176.9C638.9 169.2 640.8 168.4 643.0 166.0C645.2 163.6 648.3 162.6 651.0 162.4C653.7 162.2 656.6 163.6 659.0 165.0C661.4 166.4 663.7 166.3 665.5 170.7C667.3 175.1 668.9 176.4 669.6 191.3C670.3 206.2 669.8 235.2 669.6 260.0C669.4 284.8 668.6 308.3 668.6 340.0C668.6 371.7 669.5 426.5 669.6 450.0C669.7 473.5 669.1 475.7 669.0 480.8" fill="none" stroke="#333" stroke-width="0.95" stroke-linejoin="round" stroke-linecap="round"/>
<ellipse cx="652" cy="190.8" rx="17" ry="10" transform="rotate(45 652 190.8)" fill="none" stroke="#333" stroke-width="0.95"/>
<ellipse cx="651.5" cy="226.1" rx="17" ry="10" transform="rotate(45 651.5 226.1)" fill="none" stroke="#333" stroke-width="0.95"/>
<ellipse cx="652.2" cy="273.3" rx="17.5" ry="9" transform="rotate(52 652.2 273.3)" fill="none" stroke="#333" stroke-width="0.95"/>
<ellipse cx="651.7" cy="310.9" rx="16.5" ry="9" transform="rotate(50 651.7 310.9)" fill="none" stroke="#333" stroke-width="0.95"/>
<ellipse cx="652.6" cy="354.2" rx="16" ry="8.5" transform="rotate(38 652.6 354.2)" fill="none" stroke="#333" stroke-width="0.95"/>
<ellipse cx="651.7" cy="386.6" rx="16.5" ry="9" transform="rotate(46 651.7 386.6)" fill="none" stroke="#333" stroke-width="0.95"/>
<ellipse cx="653.1" cy="422.1" rx="16.5" ry="9" transform="rotate(48 653.1 422.1)" fill="none" stroke="#333" stroke-width="0.95"/>
<ellipse cx="654.4" cy="454.3" rx="15" ry="8" transform="rotate(53 654.4 454.3)" fill="none" stroke="#333" stroke-width="0.95"/>
<circle cx="653.2" cy="189.5" r="2.6" fill="none" stroke="#333" stroke-width="1"/>
<circle cx="653.2" cy="227.5" r="2.6" fill="none" stroke="#333" stroke-width="1"/>
<circle cx="652.5" cy="274.2" r="2.6" fill="none" stroke="#333" stroke-width="1"/>
<circle cx="652.5" cy="311.8" r="2.6" fill="none" stroke="#333" stroke-width="1"/>
<circle cx="652.9" cy="354.1" r="3.0" fill="#000"/>
<circle cx="653.1" cy="388.3" r="3.0" fill="#000"/>
<circle cx="653.4" cy="422.4" r="3.0" fill="#000"/>
<circle cx="655" cy="455.2" r="3.0" fill="#000"/>
<path d="M639.1 485.3C640.1 486.1 643.6 489.4 645.3 490.4C647.0 491.4 647.9 491.0 649.2 491.5C650.5 492.0 651.6 492.6 653.2 493.2C654.8 493.8 657.1 495.4 658.8 495.4C660.5 495.4 661.9 494.3 663.3 493.2C664.7 492.1 666.6 489.4 667.3 488.7" fill="none" stroke="#333" stroke-width="0.95" stroke-linejoin="round" stroke-linecap="round"/>
<path d="M667.3 488.7C667.9 489.3 670.4 490.4 671.2 492.1C672.1 493.8 672.6 496.2 672.4 498.8C672.2 501.4 671.6 505.4 670.1 507.9C668.6 510.3 665.6 512.0 663.3 513.5C660.9 515.0 657.4 515.8 656.0 516.9C654.6 518.0 655.1 519.4 654.9 520.3C654.6 521.2 654.6 522.1 654.5 522.5" fill="none" stroke="#333" stroke-width="0.95" stroke-linejoin="round" stroke-linecap="round"/>
<path d="M631.2 501.7C631.9 502.5 634.2 504.5 635.2 506.7C636.2 508.9 636.9 512.0 637.4 514.6C637.9 517.2 638.3 521.2 638.5 522.5" fill="none" stroke="#333" stroke-width="0.95" stroke-linejoin="round" stroke-linecap="round"/>
<path d="M657.7 497.7L661.1 497.1Q662.5 501 658.8 503.9L657.1 503.9Q657 500 657.7 497.7Z" fill="none" stroke="#333" stroke-width="0.9"/>
<ellipse cx="658.8" cy="482.8" rx="9.3" ry="8.5" fill="#fff" stroke="#111" stroke-width="1.2"/>
<text x="175.5" y="70.9" font-size="12.2" fill="#222" textLength="59.5" lengthAdjust="spacingAndGlyphs">Trichogyne</text>
<text x="78.5" y="89" font-size="16.5" fill="#000" font-weight="bold" stroke="#000" stroke-width="0.35" textLength="34.3" lengthAdjust="spacingAndGlyphs">n + n</text>
<text x="220.5" y="108.5" font-size="14.2" fill="#e8322b" font-weight="bold" stroke="#e8322b" stroke-width="0.35" textLength="70.8" lengthAdjust="spacingAndGlyphs">plasmogamy</text>
<text x="89" y="226.6" font-size="16" fill="#000" font-weight="bold" stroke="#000" stroke-width="0.35" textLength="7.8" lengthAdjust="spacingAndGlyphs">n</text>
<text x="211" y="228.4" font-size="15.5" fill="#000" font-weight="bold" stroke="#000" stroke-width="0.35" textLength="8.2" lengthAdjust="spacingAndGlyphs">n</text>
<text x="28.3" y="333.6" font-size="12.5" fill="#222" textLength="38" lengthAdjust="spacingAndGlyphs">Crozier</text>
<text x="3" y="374.4" font-size="12.4" fill="#222" textLength="66.6" lengthAdjust="spacingAndGlyphs">Ascogenous</text>
<text x="4.5" y="386" font-size="12.4" fill="#222" textLength="32" lengthAdjust="spacingAndGlyphs">hypha</text>
<text x="125.3" y="319.9" font-size="10.2" fill="#000" textLength="59.5" lengthAdjust="spacingAndGlyphs">+ autotropism</text>
<text x="189.1" y="373.8" font-size="10" fill="#000" textLength="32.2" lengthAdjust="spacingAndGlyphs">mitoses</text>
<text x="249.2" y="299.2" font-size="12.8" fill="#e8322b" font-weight="bold" stroke="#e8322b" stroke-width="0.35" textLength="61.3" lengthAdjust="spacingAndGlyphs">karyogamy</text>
<text x="263.5" y="316.5" font-size="15.3" fill="#000" font-weight="bold" stroke="#000" stroke-width="0.35" textLength="17.5" lengthAdjust="spacingAndGlyphs">2n</text>
<text x="255.6" y="257.7" font-size="12.3" fill="#222" textLength="24.1" lengthAdjust="spacingAndGlyphs">New</text>
<text x="253.6" y="271" font-size="12.3" fill="#222" textLength="36.8" lengthAdjust="spacingAndGlyphs">crozier</text>
<text x="315" y="256.2" font-size="12.8" fill="#222" textLength="63.8" lengthAdjust="spacingAndGlyphs">Ascus initial</text>
<text x="385.8" y="305.8" font-size="15" fill="#e8322b" font-weight="bold" stroke="#e8322b" stroke-width="0.35" textLength="44.2" lengthAdjust="spacingAndGlyphs">meiosis</text>
<text x="76.3" y="439.3" font-size="11.2" fill="#222" textLength="14.7" lengthAdjust="spacingAndGlyphs">(a)</text>
<text x="159.3" y="439.5" font-size="11.2" fill="#222" textLength="14" lengthAdjust="spacingAndGlyphs">(b)</text>
<text x="226.5" y="439.2" font-size="11.2" fill="#222" textLength="14.1" lengthAdjust="spacingAndGlyphs">(c)</text>
<text x="336.7" y="440" font-size="11.2" fill="#222" textLength="14.7" lengthAdjust="spacingAndGlyphs">(d)</text>
<text x="440.9" y="440.6" font-size="11.2" fill="#222" textLength="14.7" lengthAdjust="spacingAndGlyphs">(e)</text>
<text x="613.7" y="442.8" font-size="11.2" fill="#222" textLength="10.4" lengthAdjust="spacingAndGlyphs">(f)</text>
<text x="670.7" y="439.3" font-size="11.2" fill="#222" textLength="12.8" lengthAdjust="spacingAndGlyphs">(g)</text>
<text x="118.4" y="487.7" font-size="13" fill="#222" textLength="70.8" lengthAdjust="spacingAndGlyphs">Ascogonium</text>
<text x="29.2" y="513.8" font-size="14.6" fill="#000" font-weight="bold" stroke="#000" stroke-width="0.35" textLength="33.7" lengthAdjust="spacingAndGlyphs">n + n</text>
<text x="387.4" y="184.9" font-size="11.3" fill="#222" textLength="51.1" lengthAdjust="spacingAndGlyphs">1st ascus</text>
<text x="530.5" y="225.6" font-size="13" fill="#e8322b" font-weight="bold" stroke="#e8322b" stroke-width="0.35" textLength="39.4" lengthAdjust="spacingAndGlyphs">mitosis</text>
<text x="505.6" y="309" font-size="12.2" fill="#222" textLength="55.3" lengthAdjust="spacingAndGlyphs">2nd ascus</text>
<text x="618" y="158.5" font-size="12.8" fill="#000" textLength="73" lengthAdjust="spacingAndGlyphs">Mature ascus</text>
<text stroke="#000" stroke-width="0.55" x="676" y="195.5" font-size="15.7" fill="#000" font-weight="bold" stroke="#000" stroke-width="0.35" textLength="8.2" lengthAdjust="spacingAndGlyphs">n</text>
<text stroke="#000" stroke-width="0.55" x="676" y="234.8" font-size="15.7" fill="#000" font-weight="bold" stroke="#000" stroke-width="0.35" textLength="8.2" lengthAdjust="spacingAndGlyphs">n</text>
<text stroke="#000" stroke-width="0.55" x="676" y="280" font-size="15.7" fill="#000" font-weight="bold" stroke="#000" stroke-width="0.35" textLength="8.2" lengthAdjust="spacingAndGlyphs">n</text>
<text stroke="#000" stroke-width="0.55" x="676" y="317.2" font-size="15.7" fill="#000" font-weight="bold" stroke="#000" stroke-width="0.35" textLength="8.2" lengthAdjust="spacingAndGlyphs">n</text>
<text stroke="#000" stroke-width="0.55" x="676" y="358.6" font-size="15.7" fill="#000" font-weight="bold" stroke="#000" stroke-width="0.35" textLength="8.2" lengthAdjust="spacingAndGlyphs">n</text>
<text stroke="#000" stroke-width="0.55" x="676" y="393.3" font-size="15.7" fill="#000" font-weight="bold" stroke="#000" stroke-width="0.35" textLength="8.2" lengthAdjust="spacingAndGlyphs">n</text>
<text stroke="#000" stroke-width="0.55" x="676" y="427.2" font-size="15.7" fill="#000" font-weight="bold" stroke="#000" stroke-width="0.35" textLength="8.2" lengthAdjust="spacingAndGlyphs">n</text>
<text stroke="#000" stroke-width="0.55" x="676" y="460.4" font-size="15.7" fill="#000" font-weight="bold" stroke="#000" stroke-width="0.35" textLength="8.2" lengthAdjust="spacingAndGlyphs">n</text>
<text x="668.4" y="485.8" font-size="11.2" fill="#000" textLength="32" lengthAdjust="spacingAndGlyphs">vacuole</text>
</g>
</svg>
</body></html>
